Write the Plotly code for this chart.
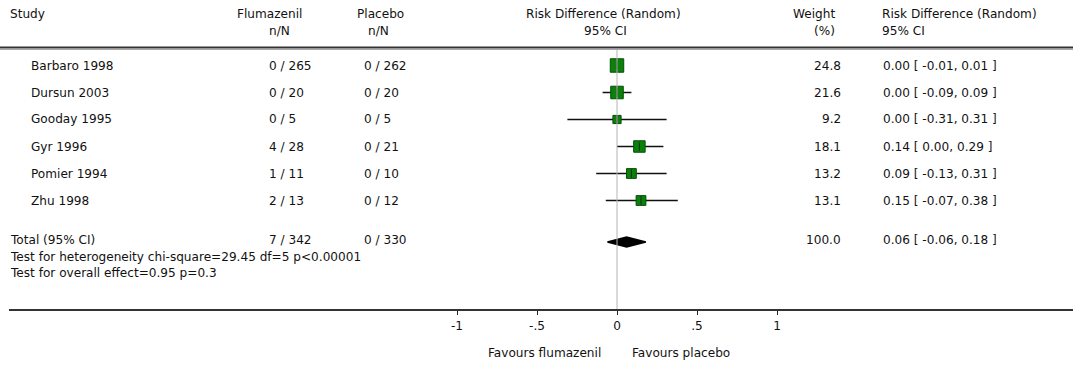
import plotly.graph_objects as go

# ---------------- data ----------------
studies = ["Barbaro 1998", "Dursun 2003", "Gooday 1995", "Gyr 1996", "Pomier 1994", "Zhu 1998"]
flum_n = [0, 0, 0, 4, 1, 2]
flum_N = [265, 20, 5, 28, 11, 13]
plac_n = [0, 0, 0, 0, 0, 0]
plac_N = [262, 20, 5, 21, 10, 12]
weights = [24.8, 21.6, 9.2, 18.1, 13.2, 13.1]
rd = [0.00, 0.00, 0.00, 0.14, 0.09, 0.15]
rd_lo = [-0.01, -0.09, -0.31, 0.00, -0.13, -0.07]
rd_hi = [0.01, 0.09, 0.31, 0.29, 0.31, 0.38]

total_label = "Total (95% CI)"
total_flum = (7, 342)
total_plac = (0, 330)
total_weight = 100.0
total_rd, total_lo, total_hi = 0.06, -0.06, 0.18
heterogeneity = "Test for heterogeneity chi-square=29.45 df=5 p<0.00001"
overall = "Test for overall effect=0.95 p=0.3"

tick_vals = [-1, -0.5, 0, 0.5, 1]
tick_text = ["-1", "-.5", "0", ".5", "1"]
favours_left = "Favours flumazenil"
favours_right = "Favours placebo"

# ---------------- layout constants ----------------
W, H = 1073, 365
X0_PX, PX_PER_UNIT = 617, 160
ROW0, ROWH = 65.5, 27.0
TOTAL_Y = 242
AXIS_Y = 310
HEAD1_Y, HEAD2_Y = 14, 31
FONT = dict(family="DejaVu Sans, Verdana, sans-serif", size=12.1, color="#111")

def row_y(i):
    return ROW0 + i * ROWH

def px(x):
    return x / W

def py(y):
    return 1 - y / H

def fmt_ci(e, lo, hi):
    def f(v):
        return f"{v:.2f}"
    return f"{f(e)} [ {f(lo)}, {f(hi)} ]"

fig = go.Figure()

# CI lines
cx, cy = [], []
for i in range(len(studies)):
    cx += [rd_lo[i], rd_hi[i], None]
    cy += [row_y(i), row_y(i), None]
fig.add_trace(go.Scatter(x=cx, y=cy, mode="lines", line=dict(color="#111", width=1.5),
                         hoverinfo="skip", showlegend=False))

# weight squares
fig.add_trace(go.Scatter(
    x=rd, y=[row_y(i) for i in range(len(studies))], mode="markers",
    marker=dict(symbol="square", color="#0b800b", opacity=1,
                size=[2.7 * w ** 0.5 for w in weights],
                line=dict(color="#045004", width=1)),
    hoverinfo="skip", showlegend=False))

# point estimate ticks inside squares
fig.add_trace(go.Scatter(
    x=rd, y=[row_y(i) for i in range(len(studies))], mode="markers",
    marker=dict(symbol="line-ns", size=6, line=dict(color="#1a2a1a", width=1)),
    hoverinfo="skip", showlegend=False))

# total diamond
dh = 5
fig.add_trace(go.Scatter(
    x=[total_lo, total_rd, total_hi, total_rd, total_lo],
    y=[TOTAL_Y, TOTAL_Y - dh, TOTAL_Y, TOTAL_Y + dh, TOTAL_Y],
    mode="lines", fill="toself", fillcolor="#000", line=dict(color="#000", width=1.5),
    hoverinfo="skip", showlegend=False))

x_min = -X0_PX / PX_PER_UNIT
x_max = (W - X0_PX) / PX_PER_UNIT

fig.update_layout(
    width=W, height=H, margin=dict(l=0, r=0, t=0, b=0),
    paper_bgcolor="white", plot_bgcolor="white",
    xaxis=dict(range=[x_min, x_max], domain=[0, 1], showgrid=False, zeroline=False,
               showline=False, tickvals=tick_vals, ticktext=tick_text,
               ticks="outside", ticklen=4, tickcolor="#222", tickwidth=1,
               tickfont=FONT, anchor="free", position=py(AXIS_Y), fixedrange=True),
    yaxis=dict(range=[H, 0], domain=[0, 1], visible=False, fixedrange=True),
    showlegend=False,
)

shapes = []
# header rule
shapes.append(dict(type="line", xref="paper", yref="paper", x0=0, x1=1,
                   y0=py(47.5), y1=py(47.5), line=dict(color="#333", width=2)))
shapes.append(dict(type="line", xref="paper", yref="paper", x0=0, x1=1,
                   y0=py(49.5), y1=py(49.5), line=dict(color="#aaa", width=1)))
# axis rule
shapes.append(dict(type="line", xref="paper", yref="paper", x0=px(9), x1=1,
                   y0=py(AXIS_Y), y1=py(AXIS_Y), line=dict(color="#333", width=2)))
# no-effect line
shapes.append(dict(type="line", xref="x", yref="y", x0=0, x1=0,
                   y0=50, y1=AXIS_Y - 1, line=dict(color="#b5b5b5", width=1)))
fig.update_layout(shapes=shapes)

ann = []
def text(x, y, s, anchor="left"):
    ann.append(dict(x=px(x), y=py(y), xref="paper", yref="paper", text=s, showarrow=False,
                    xanchor=anchor, yanchor="middle", font=FONT))

# header
text(8, HEAD1_Y, "Study")
text(269, HEAD1_Y, "Flumazenil", "center")
text(279, HEAD2_Y, "n/N", "center")
text(380, HEAD1_Y, "Placebo", "center")
text(378, HEAD2_Y, "n/N", "center")
text(603, HEAD1_Y, "Risk Difference (Random)", "center")
text(605, HEAD2_Y, "95% CI", "center")
text(837, HEAD1_Y, "Weight", "right")
text(837, HEAD2_Y, "(%)", "right")
text(880, HEAD1_Y, "Risk Difference (Random)")
text(880, HEAD2_Y, "95% CI")

for i, s in enumerate(studies):
    y = row_y(i)
    text(29, y, s)
    text(267, y, f"{flum_n[i]} / {flum_N[i]}")
    text(362, y, f"{plac_n[i]} / {plac_N[i]}")
    text(843, y, f"{weights[i]:.1f}", "right")
    text(881, y, fmt_ci(rd[i], rd_lo[i], rd_hi[i]))

text(8, 240, total_label)
text(267, 240, f"{total_flum[0]} / {total_flum[1]}")
text(362, 240, f"{total_plac[0]} / {total_plac[1]}")
text(843, 240, f"{total_weight:.1f}", "right")
text(881, 240, fmt_ci(total_rd, total_lo, total_hi))
text(8, 257, heterogeneity)
text(8, 273, overall)

text(603, 353, favours_left, "right")
text(630, 353, favours_right, "left")

fig.update_layout(annotations=ann)
fig.write_html("out.html")
